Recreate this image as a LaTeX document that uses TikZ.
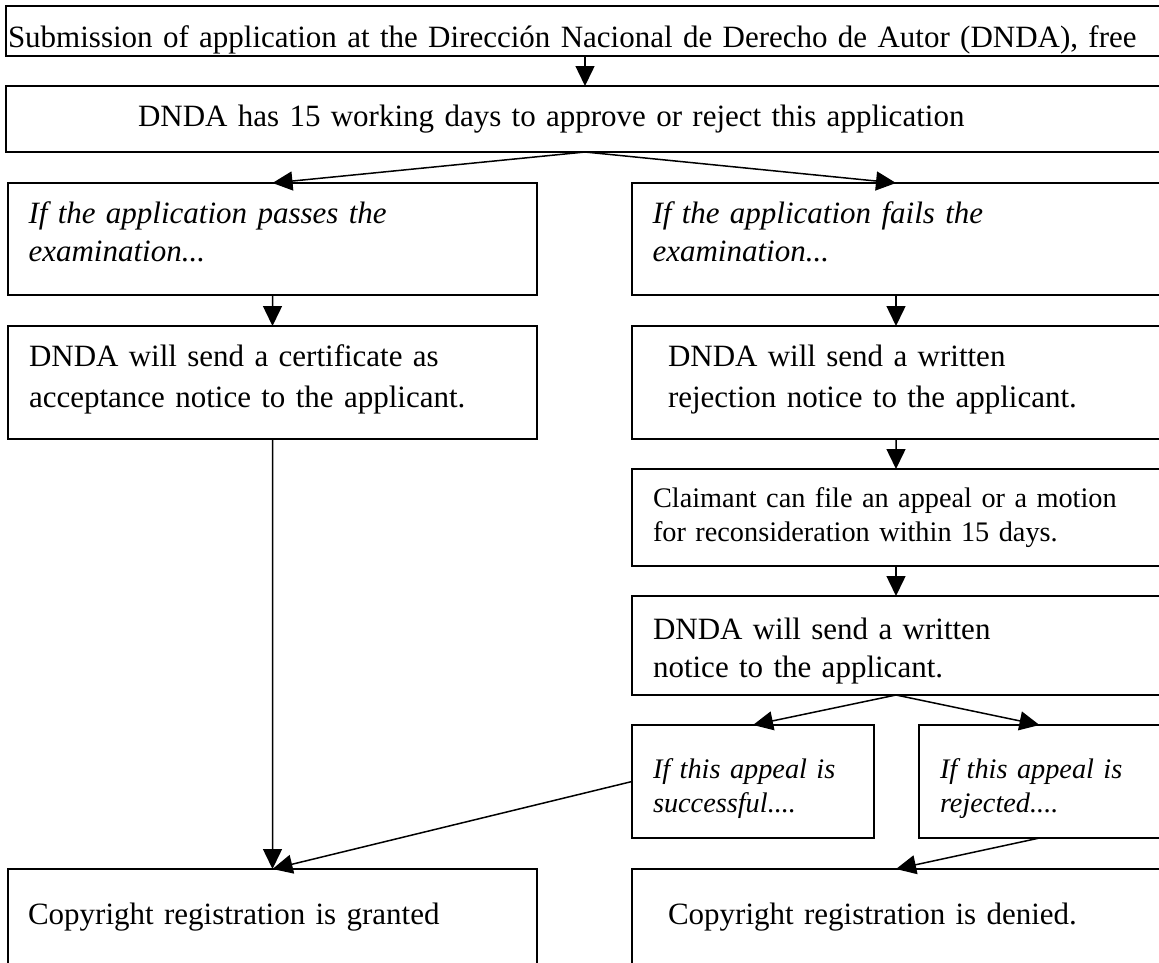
\documentclass[tikz,border=0pt]{standalone}
\usepackage{fontspec}
\setmainfont{Liberation Serif}
\usetikzlibrary{arrows.meta}
\tikzset{
  box/.style={draw, line width=1.5bp, anchor=north west, inner ysep=0pt, outer sep=0pt, align=left},
  big/.style={font=\fontsize{31bp}{38bp}\selectfont},
  bigsp/.style={font=\fontsize{31bp}{41bp}\selectfont},
  bigit/.style={font=\fontsize{31bp}{38bp}\selectfont\itshape},
  small/.style={font=\fontsize{28.3bp}{34bp}\selectfont},
  smallit/.style={font=\fontsize{28.3bp}{34bp}\selectfont\itshape},
  conn/.style={line width=1.5bp, -{Triangle[length=20bp,width=19bp]}},
}
\begin{document}
\begin{tikzpicture}[x=1bp,y=-1bp]
\useasboundingbox (0,0) rectangle (1159,963);
\clip (0,0) rectangle (1159,963);

\node[box, big, inner xsep=2bp, text width=1154bp, text height=41bp, text depth=9bp] (b1) at (6,6)
  {\mbox{Submission of application at the Dirección Nacional de Derecho de Autor (DNDA), free}};
\node[box, big, inner xsep=132bp, text width=894bp, text height=40bp, text depth=26bp] (b2) at (6,86)
  {DNDA has 15 working days to approve or reject this application};

\node[box, bigit, inner xsep=20.5bp, text width=488bp, text height=40bp, text depth=72bp] (b3l) at (8,183)
  {If the application passes the\\examination...};
\node[box, bigit, inner xsep=20.5bp, text width=487bp, text height=40bp, text depth=72bp] (b3r) at (632,183)
  {If the application fails the\\examination...};

\node[box, bigsp, inner xsep=21bp, text width=487bp, text height=40bp, text depth=73bp] (b4l) at (8,326)
  {DNDA will send a certificate as\\acceptance notice to the applicant.};
\node[box, bigsp, inner xsep=36bp, text width=456bp, text height=40bp, text depth=73bp] (b4r) at (632,326)
  {DNDA will send a written\\rejection notice to the applicant.};

\node[box, small, inner xsep=21bp, text width=486bp, text height=38bp, text depth=59bp] (b5r) at (632,469)
  {Claimant can file an appeal or a motion\\for reconsideration within 15 days.};
\node[box, big, inner xsep=21bp, text width=486bp, text height=43bp, text depth=56bp] (b6r) at (632,596)
  {DNDA will send a written\\notice to the applicant.};

\node[box, smallit, inner xsep=21bp, text width=200bp, text height=53bp, text depth=60bp] (b7a) at (632,725)
  {If this appeal is\\successful....};
\node[box, smallit, inner xsep=21bp, text width=199bp, text height=53bp, text depth=60bp] (b7b) at (919,725)
  {If this appeal is\\rejected....};

\node[box, big, inner xsep=20bp, text width=489bp, text height=55bp, text depth=80bp] (b8l) at (8,869)
  {Copyright registration is granted};
\node[box, big, inner xsep=36bp, text width=456bp, text height=55bp, text depth=80bp] (b8r) at (632,869)
  {Copyright registration is denied.};

\draw[conn] (b1.south) -- (b2.north);
\draw[conn] (b2.south) -- (b3l.north);
\draw[conn] (b2.south) -- (b3r.north);
\draw[conn] (b3l.south) -- (b4l.north);
\draw[conn] (b3r.south) -- (b4r.north);
\draw[conn] (b4r.south) -- (b5r.north);
\draw[conn] (b5r.south) -- (b6r.north);
\draw[conn] (b6r.south) -- (b7a.north);
\draw[conn] (b6r.south) -- (b7b.north);
\draw[conn] (b4l.south) -- (b8l.north);
\draw[conn] (b7a.west) -- (b8l.north);
\draw[conn] (b7b.south) -- (b8r.north);
\end{tikzpicture}
\end{document}
